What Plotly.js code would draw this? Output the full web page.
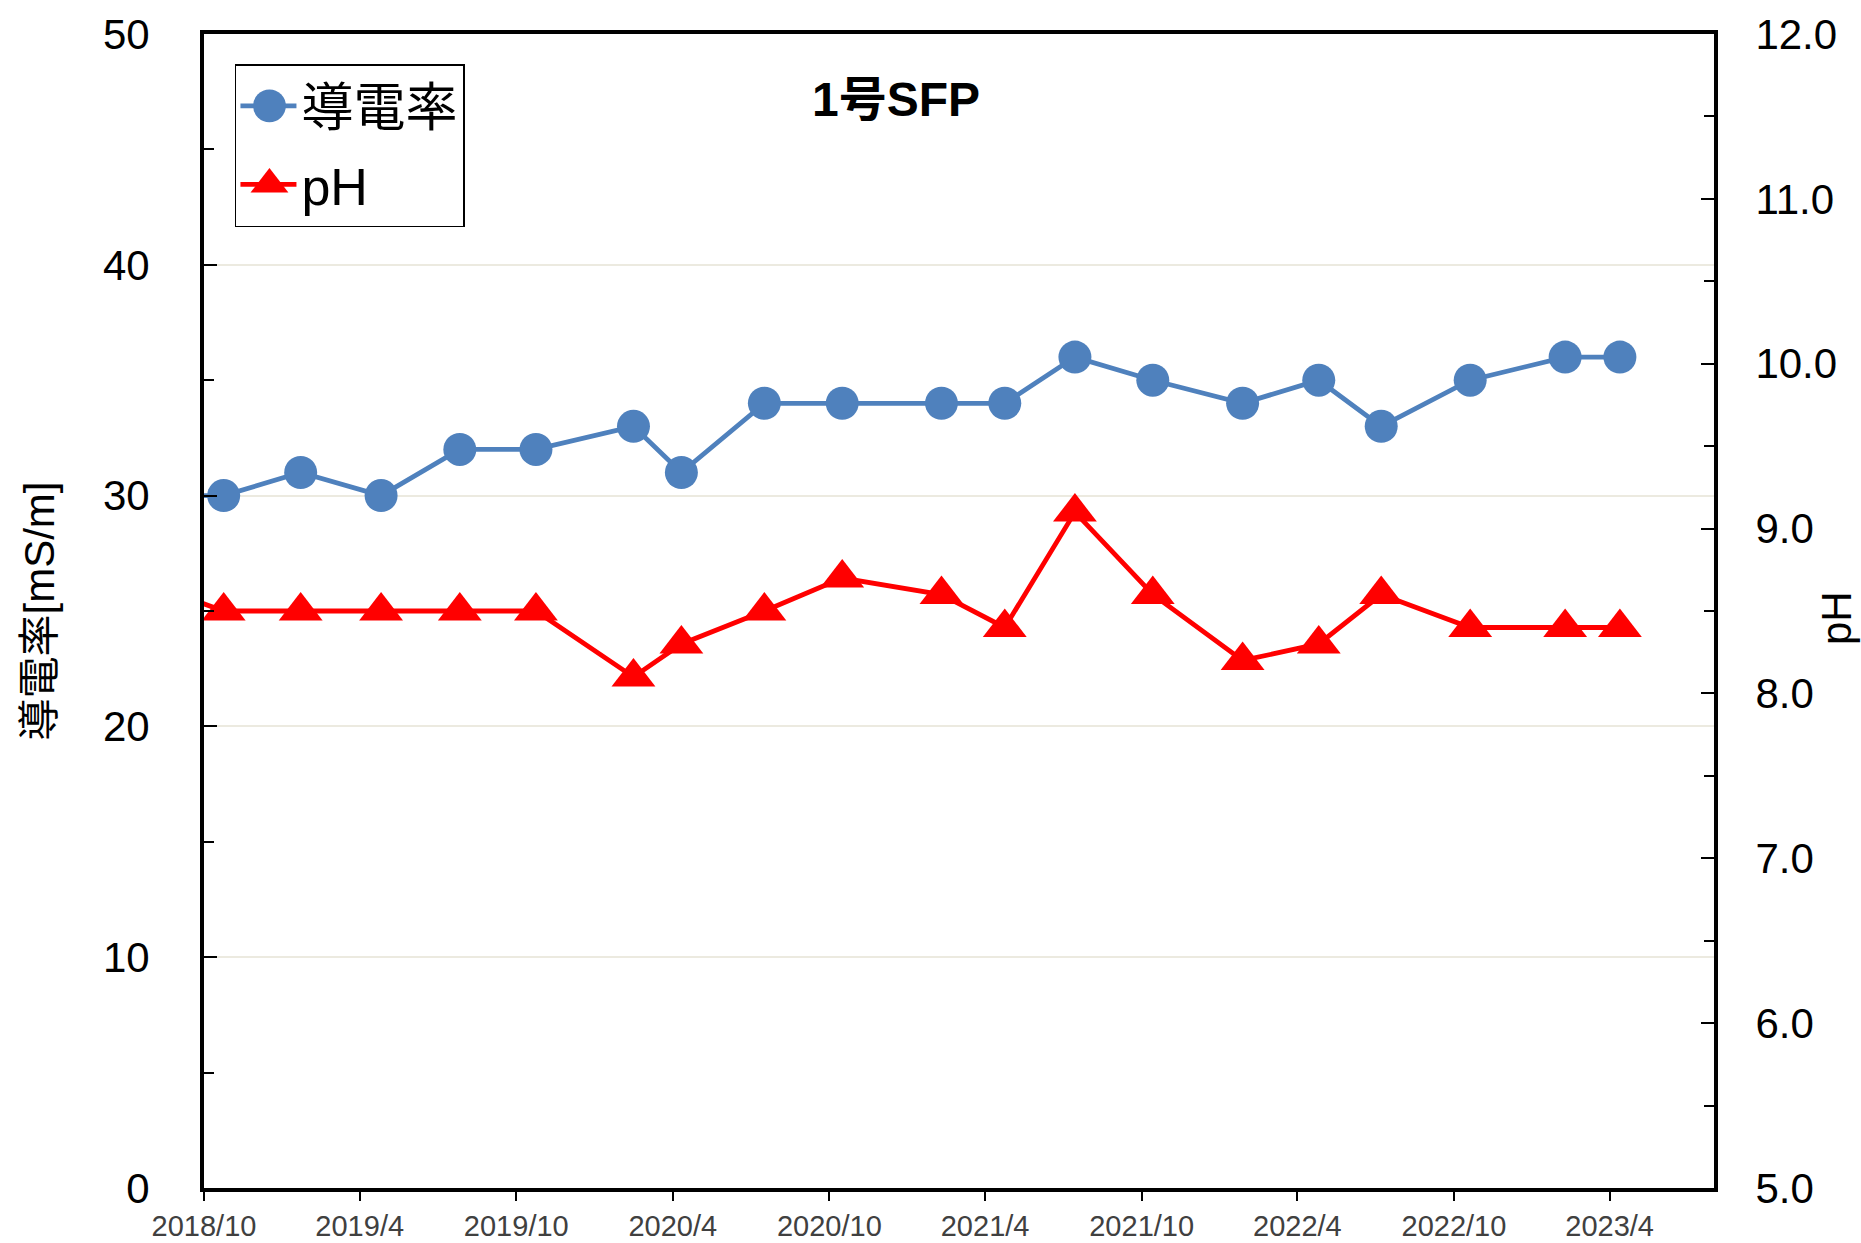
<!DOCTYPE html>
<html>
<head>
<meta charset="utf-8">
<script src="https://cdn.plot.ly/plotly-3.0.1.min.js"></script>
<style>
html, body { margin: 0; padding: 0; background: #ffffff; }
#chart { width: 1861px; height: 1243px; }
</style>
</head>
<body>
<div id="chart"></div>
<script>
// ---- data ----
const sampleDates = [
  '2018-07-10', '2018-10-24', '2019-01-22', '2019-04-26', '2019-07-27',
  '2019-10-24', '2020-02-15', '2020-04-11', '2020-07-17', '2020-10-16',
  '2021-02-09', '2021-04-24', '2021-07-15', '2021-10-14', '2022-01-27',
  '2022-04-26', '2022-07-08', '2022-10-20', '2023-02-08', '2023-04-13'
];
const conductivity = [30, 30, 31, 30, 32, 32, 33, 31, 34, 34, 34, 34, 36, 35, 34, 35, 33, 35, 36, 36];
const phValues = [8.7, 8.5, 8.5, 8.5, 8.5, 8.5, 8.1, 8.3, 8.5, 8.7, 8.6, 8.4, 9.1, 8.6, 8.2, 8.3, 8.6, 8.4, 8.4, 8.4];
const xTickDates = ['2018-10-01', '2019-04-01', '2019-10-01', '2020-04-01', '2020-10-01',
                    '2021-04-01', '2021-10-01', '2022-04-01', '2022-10-01', '2023-04-01'];
const xTickLabels = ['2018/10', '2019/4', '2019/10', '2020/4', '2020/10',
                     '2021/4', '2021/10', '2022/4', '2022/10', '2023/4'];
const seriesNames = ['導電率', 'pH'];
const chartTitle = '1号SFP';
const leftAxisTitle = '導電率[mS/m]';
const rightAxisTitle = 'pH';

const FONT = '"Liberation Sans", Arial, "Noto Sans CJK JP", sans-serif';

const traces = [
  {
    x: sampleDates, y: conductivity, name: seriesNames[0], legendgroup: 'g1',
    type: 'scatter', mode: 'lines+markers', yaxis: 'y',
    line: { color: '#4F81BD', width: 4.8 },
    marker: { color: '#4F81BD', size: 33, symbol: 'circle' }
  },
  {
    x: sampleDates, y: phValues, name: seriesNames[1], legendgroup: 'g2',
    type: 'scatter', mode: 'lines+markers', yaxis: 'y2',
    line: { color: '#FF0000', width: 4.8 },
    marker: { color: '#FF0000', size: 38, symbol: 'triangle-up' }
  }
];

const layout = {
  width: 1861, height: 1243,
  margin: { l: 204, r: 147, t: 34, b: 55, pad: 0 },
  paper_bgcolor: '#ffffff', plot_bgcolor: '#ffffff',
  font: { family: FONT, color: '#000000' },
  showlegend: true,
  legend: {
    x: 0.0205, y: 0.974, xanchor: 'left', yanchor: 'top',
    bgcolor: '#ffffff', bordercolor: '#000000', borderwidth: 1.5,
    font: { family: FONT, size: 52, color: '#000000' },
    traceorder: 'grouped', tracegroupgap: 8, itemsizing: 'trace', itemwidth: 55
  },
  xaxis: {
    type: 'date', range: ['2018-10-01', '2023-08-01'],
    tickmode: 'array', tickvals: xTickDates, ticktext: xTickLabels,
    ticks: 'outside', ticklen: 9, tickwidth: 2, tickcolor: '#000000',
    tickfont: { family: FONT, size: 29, color: '#404040' },
    ticklabelstandoff: 0,
    showline: true, linewidth: 4, linecolor: '#000000', mirror: true,
    showgrid: false, zeroline: false
  },
  yaxis: {
    range: [0, 50], tickmode: 'linear', tick0: 0, dtick: 10,
    ticks: 'inside', ticklen: 13, tickwidth: 2, tickcolor: '#000000',
    tickfont: { family: FONT, size: 42, color: '#000000' },
    ticklabelstandoff: 42,
    minor: { tickmode: 'linear', tick0: 0, dtick: 5, ticks: 'inside', ticklen: 10, tickwidth: 2, tickcolor: '#000000', showgrid: false },
    showline: true, linewidth: 4, linecolor: '#000000',
    showgrid: true, gridcolor: '#ECEAE0', gridwidth: 2, zeroline: false,
    title: { text: leftAxisTitle, font: { family: FONT, size: 42, color: '#000000' }, standoff: 36 }
  },
  yaxis2: {
    overlaying: 'y', side: 'right', anchor: 'x',
    range: [5, 12], tickmode: 'linear', tick0: 5, dtick: 1, tickformat: '.1f',
    ticks: 'inside', ticklen: 13, tickwidth: 2, tickcolor: '#000000',
    tickfont: { family: FONT, size: 42, color: '#000000' },
    ticklabelstandoff: 29,
    minor: { tickmode: 'linear', tick0: 5, dtick: 0.5, ticks: 'inside', ticklen: 10, tickwidth: 2, tickcolor: '#000000', showgrid: false },
    showline: true, linewidth: 4, linecolor: '#000000',
    showgrid: false, zeroline: false
  },
  annotations: [
    {
      text: '<b>' + chartTitle + '</b>', xref: 'paper', yref: 'paper',
      x: 0.458, y: 0.943, xanchor: 'center', yanchor: 'middle', showarrow: false,
      font: { family: FONT, size: 48, color: '#000000' }
    },
    {
      text: rightAxisTitle, xref: 'paper', yref: 'paper',
      x: 1.0815, y: 0.494, xanchor: 'center', yanchor: 'middle', showarrow: false,
      textangle: -90, font: { family: FONT, size: 42, color: '#000000' }
    }
  ]
};

Plotly.newPlot('chart', traces, layout, { displayModeBar: false, staticPlot: true }).then(function (gd) {
  // enlarge legend symbols and lengthen legend lines to match the reference legend
  gd.querySelectorAll('.legend .traces').forEach(function (item) {
    const txt = item.querySelector('.legendtext');
    const tx = txt ? parseFloat(txt.getAttribute('x')) : 65;
    const cx = tx - 32;
    item.querySelectorAll('.legendpoints path.scatterpts').forEach(function (p) {
      p.setAttribute('transform', 'translate(' + cx + ',0) scale(2.05)');
    });
    item.querySelectorAll('.legendlines path').forEach(function (p) {
      p.setAttribute('d', 'M' + (cx - 29) + ',0h56');
    });
  });
});
</script>
</body>
</html>
